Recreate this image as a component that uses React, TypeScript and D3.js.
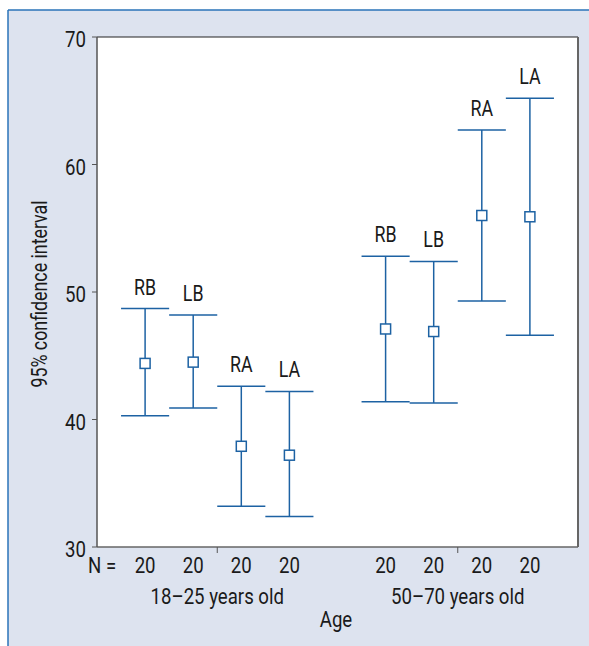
import * as d3 from 'd3'

const W = 589
const H = 646
const PLOT = { left: 97, right: 578, top: 37, bottom: 547 }

const GROUPS = ['18–25 years old', '50–70 years old']
const SIDES = ['RB', 'LB', 'RA', 'LA']
const N_VALUES = [20, 20, 20, 20, 20, 20, 20, 20]
const MEANS = [44.4, 44.5, 37.9, 37.2, 47.1, 46.9, 56.0, 55.9]
const LOWER = [40.3, 40.9, 33.2, 32.4, 41.4, 41.3, 49.3, 46.6]
const UPPER = [48.7, 48.2, 42.6, 42.2, 52.8, 52.4, 62.7, 65.2]
const Y_TICKS = [30, 40, 50, 60, 70]

const FONT = 'Roboto, sans-serif'
const BLUE = '#1d62a3'
const INK = '#1a1a1a'
const SQUEEZE = 0.81

// condensed-looking text: Roboto squeezed horizontally
function T({ x, y, size = 23, anchor = 'middle', rotate = 0, children }: any) {
  return (
    <text
      transform={`translate(${x},${y}) rotate(${rotate}) scale(${SQUEEZE},1)`}
      textAnchor={anchor}
      fontSize={size}
      fill={INK}
    >
      {children}
    </text>
  )
}

export default function App() {
  const y = d3.scaleLinear().domain([30, 70]).range([PLOT.bottom, PLOT.top])
  // 10 slots across the plot; one empty slot between the age groups
  const x = d3.scaleLinear().domain([0, 10]).range([PLOT.left, PLOT.right])
  const slot = (i: number) => (i < 4 ? i + 1 : i + 2)
  const half = (x(1) - x(0)) / 2

  const bars = MEANS.map((m, i) => ({
    side: SIDES[i % 4],
    n: N_VALUES[i],
    mean: m,
    lo: LOWER[i],
    hi: UPPER[i],
    cx: x(slot(i)),
  }))

  return (
    <svg width={W} height={H} style={{ display: 'block', position: 'absolute', left: 0, top: 0 }} fontFamily={FONT}>
      <rect x={8} y={10} width={W - 8} height={H - 10} fill="#dde3ef" />
      <line x1={8} x2={W} y1={10} y2={10} stroke="#2a73b8" strokeWidth={1.5} />
      <line x1={8} x2={8} y1={10} y2={H} stroke="#2a73b8" strokeWidth={1.5} />

      <rect x={PLOT.left} y={PLOT.top} width={PLOT.right - PLOT.left} height={PLOT.bottom - PLOT.top} fill="#fff" />
      <line x1={PLOT.left} x2={PLOT.right} y1={PLOT.top} y2={PLOT.top} stroke="#222" strokeWidth={1} />
      <line x1={PLOT.right} x2={PLOT.right} y1={PLOT.top} y2={PLOT.bottom} stroke="#666" strokeWidth={2} />
      <line x1={PLOT.left} x2={PLOT.right} y1={PLOT.bottom} y2={PLOT.bottom} stroke="#666" strokeWidth={1.5} />
      <line x1={PLOT.left} x2={PLOT.left} y1={PLOT.top} y2={PLOT.bottom} stroke="#555" strokeWidth={1.5} />

      {Y_TICKS.map((t) => (
        <g key={t}>
          <line x1={PLOT.left - 5} x2={PLOT.left} y1={y(t)} y2={y(t)} stroke="#555" strokeWidth={1} />
          <T x={PLOT.left - 11} y={y(t) + 10} anchor="end">
            {t}
          </T>
        </g>
      ))}

      {[2.5, 7.5].map((t) => (
        <line key={t} x1={x(t)} x2={x(t)} y1={PLOT.bottom} y2={PLOT.bottom + 6} stroke="#555" strokeWidth={1} />
      ))}

      {bars.map((b, i) => (
        <g key={i}>
          <line x1={b.cx} x2={b.cx} y1={y(b.hi)} y2={y(b.lo)} stroke={BLUE} strokeWidth={1.5} />
          <line x1={b.cx - half} x2={b.cx + half} y1={y(b.hi)} y2={y(b.hi)} stroke={BLUE} strokeWidth={1.5} />
          <line x1={b.cx - half} x2={b.cx + half} y1={y(b.lo)} y2={y(b.lo)} stroke={BLUE} strokeWidth={1.5} />
          <rect x={b.cx - 5} y={y(b.mean) - 5} width={10} height={10} fill="#fff" stroke={BLUE} strokeWidth={1.5} />
          <T x={b.cx} y={y(b.hi) - 14} size={22}>
            {b.side}
          </T>
          <T x={b.cx} y={573}>
            {b.n}
          </T>
        </g>
      ))}

      <T x={88} y={573} anchor="start">
        N =
      </T>

      {GROUPS.map((g, i) => (
        <T key={g} x={x(i === 0 ? 2.5 : 7.5)} y={604}>
          {g}
        </T>
      ))}

      <T x={336} y={627}>
        Age
      </T>

      <T x={47} y={294} rotate={-90} size={22}>
        95% confidence interval
      </T>
    </svg>
  )
}
